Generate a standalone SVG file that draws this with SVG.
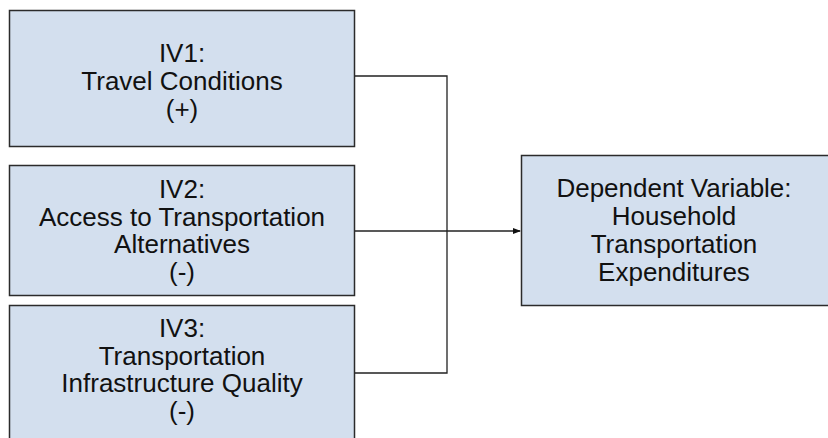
<svg xmlns="http://www.w3.org/2000/svg" width="828" height="438" viewBox="0 0 828 438">
<style>
.box{fill:#d3dfee;stroke:#2b2b2b;stroke-width:1.5}
.t{font-family:"Liberation Sans",Arial,sans-serif;font-size:26px;fill:#111;text-anchor:middle}
.c{fill:none;stroke:#222;stroke-width:1.3}
</style>
<defs>
<marker id="ah" markerWidth="8" markerHeight="8" refX="7" refY="4" orient="auto" markerUnits="userSpaceOnUse">
<path d="M0,1 L8,4 L0,7 z" fill="#111"/>
</marker>
</defs>
<rect width="828" height="438" fill="#fff"/>
<g id="iv1">
<rect class="box" x="9.5" y="10.5" width="345" height="136"/>
<text class="t" x="182" y="62">IV1:</text>
<text class="t" x="182" y="90">Travel Conditions</text>
<text class="t" x="182" y="118">(+)</text>
</g>
<g id="iv2">
<rect class="box" x="9.5" y="165.5" width="345" height="130"/>
<text class="t" x="182" y="198">IV2:</text>
<text class="t" x="182" y="225.5">Access to Transportation</text>
<text class="t" x="182" y="253">Alternatives</text>
<text class="t" x="182" y="280.5">(-)</text>
</g>
<g id="iv3">
<rect class="box" x="9.5" y="305.5" width="345" height="150"/>
<text class="t" x="182" y="337">IV3:</text>
<text class="t" x="182" y="364.5">Transportation</text>
<text class="t" x="182" y="392">Infrastructure Quality</text>
<text class="t" x="182" y="419.5">(-)</text>
</g>
<g id="dv">
<rect class="box" x="521.5" y="155.5" width="330" height="150"/>
<text class="t" x="674" y="197">Dependent Variable:</text>
<text class="t" x="674" y="225">Household</text>
<text class="t" x="674" y="253">Transportation</text>
<text class="t" x="674" y="281">Expenditures</text>
</g>
<g id="connectors">
<path class="c" d="M355,76 H447 V373 H355"/>
<path class="c" d="M355,231 H520" marker-end="url(#ah)"/>
</g>
</svg>
